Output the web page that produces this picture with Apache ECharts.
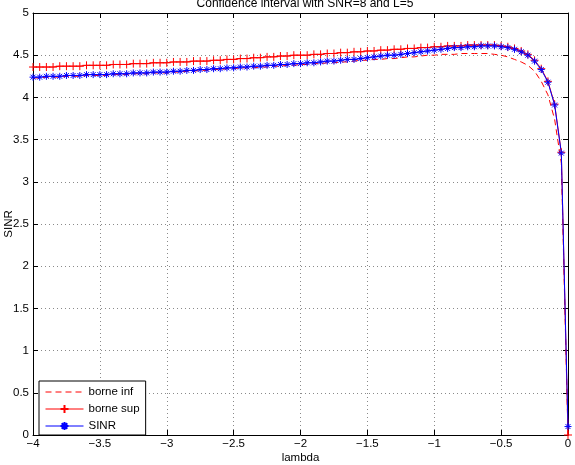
<!DOCTYPE html>
<html>
<head>
<meta charset="utf-8">
<script src="https://cdn.jsdelivr.net/npm/echarts@6/dist/echarts.min.js"></script>
<style>
html,body{margin:0;padding:0;background:#fff;}
#chart{width:575px;height:465px;}
</style>
</head>
<body>
<div id="chart"></div>
<script>
const lambda = [-4.00,-3.95,-3.90,-3.85,-3.80,-3.75,-3.70,-3.65,-3.60,-3.55,-3.50,-3.45,-3.40,-3.35,-3.30,-3.25,-3.20,-3.15,-3.10,-3.05,
  -3.00,-2.95,-2.90,-2.85,-2.80,-2.75,-2.70,-2.65,-2.60,-2.55,-2.50,-2.45,-2.40,-2.35,-2.30,-2.25,-2.20,-2.15,-2.10,-2.05,
  -2.00,-1.95,-1.90,-1.85,-1.80,-1.75,-1.70,-1.65,-1.60,-1.55,-1.50,-1.45,-1.40,-1.35,-1.30,-1.25,-1.20,-1.15,-1.10,-1.05,
  -1.00,-0.95,-0.90,-0.85,-0.80,-0.75,-0.70,-0.65,-0.60,-0.55,-0.50,-0.45,-0.40,-0.35,-0.30,-0.25,-0.20,-0.15,-0.10,-0.05,0.00];

const borneInf = [4.23,4.23,4.24,4.24,4.24,4.25,4.25,4.25,4.26,4.26,4.26,4.26,4.27,4.27,4.27,4.28,4.28,4.28,4.29,4.29,
  4.29,4.30,4.30,4.31,4.31,4.32,4.32,4.33,4.33,4.34,4.34,4.35,4.35,4.35,4.36,4.36,4.37,4.37,4.38,4.38,
  4.39,4.39,4.40,4.40,4.41,4.41,4.42,4.42,4.43,4.44,4.44,4.45,4.45,4.46,4.46,4.47,4.48,4.48,4.49,4.50,
  4.50,4.51,4.51,4.51,4.52,4.52,4.52,4.52,4.52,4.51,4.50,4.48,4.45,4.42,4.38,4.31,4.19,4.03,3.74,3.22,0.00];

const borneSup = [4.36,4.36,4.36,4.36,4.37,4.37,4.37,4.37,4.38,4.38,4.38,4.38,4.39,4.39,4.39,4.40,4.40,4.40,4.41,4.41,
  4.41,4.42,4.42,4.42,4.43,4.43,4.43,4.44,4.44,4.45,4.45,4.46,4.46,4.47,4.47,4.48,4.48,4.49,4.49,4.50,
  4.50,4.50,4.51,4.51,4.52,4.52,4.53,4.53,4.54,4.54,4.55,4.55,4.56,4.56,4.57,4.57,4.58,4.58,4.59,4.59,
  4.60,4.60,4.61,4.61,4.61,4.62,4.62,4.62,4.62,4.62,4.61,4.60,4.58,4.55,4.51,4.44,4.34,4.19,3.92,3.35,0.00];

const sinr = [4.24,4.24,4.25,4.25,4.25,4.26,4.26,4.26,4.27,4.27,4.27,4.27,4.28,4.28,4.28,4.29,4.29,4.29,4.30,4.30,
  4.30,4.31,4.31,4.32,4.32,4.33,4.33,4.34,4.34,4.35,4.35,4.36,4.36,4.37,4.37,4.38,4.38,4.39,4.39,4.40,
  4.40,4.41,4.41,4.42,4.43,4.43,4.44,4.45,4.45,4.46,4.47,4.48,4.49,4.50,4.50,4.51,4.52,4.53,4.54,4.55,
  4.56,4.57,4.58,4.59,4.59,4.60,4.60,4.61,4.61,4.61,4.60,4.59,4.57,4.54,4.50,4.43,4.33,4.18,3.91,3.34,0.10];

const seriesNames = ['borne inf', 'borne sup', 'SINR'];
const titleText = 'Confidence interval with SNR=8 and L=5';
const xName = 'lambda';
const yName = 'SINR';

const FONT = 'Liberation Sans, Arial, Helvetica, sans-serif';
const pair = (vals) => lambda.map((x, i) => [x, vals[i]]);
const fmt = (v) => String(Math.round(v * 100) / 100).replace('-', '\u2212');

const plusPath = 'path://M5,0L5,10M0,5L10,5';
const starPath = 'path://M5,0L5,10M0,5L10,5M1.5,1.5L8.5,8.5M8.5,1.5L1.5,8.5';

const gridLine = { show: true, lineStyle: { color: '#8a8a8a', width: 1, type: [1, 3] } };
const tick = { show: true, inside: true, length: 5, lineStyle: { color: '#000', width: 1 } };
const axisLine = { show: true, onZero: false, lineStyle: { color: '#000', width: 1 } };

const chart = echarts.init(document.getElementById('chart'), null, { renderer: 'canvas' });
chart.setOption({
  backgroundColor: '#fff',
  animation: false,
  title: {
    text: titleText,
    left: 300,
    textAlign: 'center',
    top: -7,
    textStyle: { fontFamily: FONT, fontSize: 12, fontWeight: 'normal', color: '#000' }
  },
  grid: { left: 33, right: 7, top: 13, bottom: 30, containLabel: false, outerBoundsMode: 'none' },
  legend: {
    orient: 'vertical',
    left: 39,
    top: 381,
    itemWidth: 38,
    itemHeight: 10,
    itemGap: 5,
    padding: [5, 6, 3, 6],
    borderColor: '#000',
    borderWidth: 1,
    borderRadius: 0,
    backgroundColor: '#fff',
    lineStyle: { width: 1 },
    textStyle: { fontFamily: FONT, fontSize: 11.5, color: '#000' },
    data: [
      { name: seriesNames[0], itemStyle: { opacity: 0 } },
      { name: seriesNames[1] },
      { name: seriesNames[2] }
    ]
  },
  xAxis: [{
    type: 'value', min: -4, max: 0, interval: 0.5, position: 'bottom',
    name: xName, nameLocation: 'middle', nameGap: 17, nameMoveOverlap: false,
    nameTextStyle: { fontFamily: FONT, fontSize: 11.5, color: '#000' },
    axisLine: axisLine, axisTick: tick,
    axisLabel: { margin: 3, fontFamily: FONT, fontSize: 11.5, color: '#000', formatter: fmt },
    splitLine: gridLine
  }, {
    type: 'value', min: -4, max: 0, interval: 0.5, position: 'top',
    axisLine: axisLine, axisTick: tick, axisLabel: { show: false }, splitLine: { show: false }
  }],
  yAxis: [{
    type: 'value', min: 0, max: 5, interval: 0.5, position: 'left',
    name: yName, nameLocation: 'middle', nameGap: 18, nameMoveOverlap: false,
    nameTextStyle: { fontFamily: FONT, fontSize: 11.5, color: '#000' },
    axisLine: axisLine, axisTick: tick,
    axisLabel: { margin: 4, fontFamily: FONT, fontSize: 11.5, color: '#000', formatter: fmt },
    splitLine: gridLine
  }, {
    type: 'value', min: 0, max: 5, interval: 0.5, position: 'right',
    axisLine: axisLine, axisTick: tick, axisLabel: { show: false }, splitLine: { show: false }
  }],
  series: [{
    name: seriesNames[0], type: 'line', data: pair(borneInf),
    symbol: 'none', clip: false,
    lineStyle: { color: '#ff0000', width: 1, type: [6, 4] },
    itemStyle: { color: '#ff0000' }
  }, {
    name: seriesNames[1], type: 'line', data: pair(borneSup),
    symbol: plusPath, symbolSize: 8, showAllSymbol: true, clip: false,
    lineStyle: { color: '#ff0000', width: 1 },
    itemStyle: { color: '#ff0000', borderColor: '#ff0000', borderWidth: 1 }
  }, {
    name: seriesNames[2], type: 'line', data: pair(sinr),
    symbol: starPath, symbolSize: 7, showAllSymbol: true, clip: false,
    lineStyle: { color: '#0000ff', width: 1 },
    itemStyle: { color: '#0000ff', borderColor: '#0000ff', borderWidth: 1 }
  }]
});
</script>
</body>
</html>
